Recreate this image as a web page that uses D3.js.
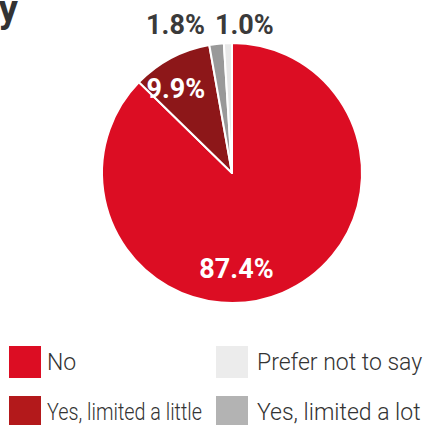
<!DOCTYPE html>
<html>
<head>
<meta charset="utf-8">
<script src="https://cdn.jsdelivr.net/npm/d3@7"></script>
<style>
  html, body { margin: 0; padding: 0; background: #fff; }
  svg { display: block; }
</style>
</head>
<body>
<svg id="chart" width="429" height="425"></svg>
<script>
// Responses, drawn clockwise from 12 o'clock
const categories = ["No", "Yes, limited a little", "Yes, limited a lot", "Prefer not to say"];
const values = [87.4, 9.9, 1.8, 1.0];
const valueLabels = ["87.4%", "9.9%", "1.8%", "1.0%"];
const sliceColors = ["#dc0d23", "#8d1719", "#999999", "#e8e8e8"];
const legendColors = ["#dc0d23", "#b3191b", "#b3b3b3", "#ececec"];
// legend reading order: left column top-down, then right column
const legendOrder = [0, 1, 3, 2];

const svg = d3.select("#chart");
const font = "Roboto, 'Open Sans', sans-serif";

// cropped end of the heading
svg.append("text")
  .attr("x", 18).attr("y", 22)
  .attr("text-anchor", "end")
  .attr("font-family", font)
  .attr("font-weight", 700)
  .attr("font-size", 38)
  .attr("fill", "#333")
  .text("y");

const cx = 232, cy = 173, radius = 130;
const g = svg.append("g").attr("transform", `translate(${cx},${cy})`);

const data = categories.map((c, i) => ({ cat: c, value: values[i], label: valueLabels[i], i }));
const pie = d3.pie().value(d => d.value).sort(null);
const arcs = pie(data);
const arc = d3.arc().innerRadius(0).outerRadius(radius);

g.selectAll("path.slice")
  .data(arcs)
  .join("path")
  .attr("class", "slice")
  .attr("d", arc)
  .attr("fill", d => sliceColors[d.data.i])
  .attr("stroke", "#fff")
  .attr("stroke-width", 2)
  .attr("stroke-linejoin", "round");

// label placement: inside for large slices, above the pie for thin ones
const insideArc = d3.arc().innerRadius(103).outerRadius(103);
function labelPos(d) {
  const span = d.endAngle - d.startAngle;
  if (d.data.i === 0) {
    // main slice: label low in the pie, near the bottom axis
    const a = Math.PI * 0.985;
    return [Math.sin(a) * 95, -Math.cos(a) * 95, "#fff"];
  }
  if (span > 0.3) {
    const [x, y] = insideArc.centroid(d);
    return [x - 8, y + 6, "#fff"];
  }
  // small slices: spread out horizontally above the top edge
  const mid = (d.startAngle + d.endAngle) / 2;
  const spread = (mid - 2 * Math.PI) * 784 + 37;
  return [spread, -radius - 19, "#3a3a3a"];
}

g.selectAll("text.val")
  .data(arcs)
  .join("text")
  .attr("class", "val")
  .each(function (d) {
    const [x, y, c] = labelPos(d);
    d3.select(this).attr("x", x).attr("y", y).attr("fill", c);
  })
  .attr("text-anchor", "middle")
  .attr("dy", "0.36em")
  .attr("font-family", font)
  .attr("font-weight", 700)
  .attr("font-size", 27)
  .text(d => d.data.label);

// legend: two columns, two rows
const lx = d3.scaleOrdinal().domain([0, 1]).range([9, 216]);
const ly = d3.scaleOrdinal().domain([0, 1]).range([346, 396]);
const legend = svg.append("g");
legendOrder.forEach((idx, k) => {
  const col = k < 2 ? 0 : 1;
  const row = k % 2;
  const item = legend.append("g").attr("transform", `translate(${lx(col)},${ly(row)})`);
  item.append("rect").attr("width", 32).attr("height", 32).attr("fill", legendColors[idx]);
  const t = item.append("text")
    .attr("x", col === 0 ? 38 : 41).attr("y", 24)
    .attr("font-family", font)
    .attr("font-weight", 300)
    .attr("font-size", 23)
    .attr("fill", "#333")
    .text(categories[idx]);
  if (idx === 1) t.attr("textLength", 155).attr("lengthAdjust", "spacingAndGlyphs");
});
</script>
</body>
</html>
